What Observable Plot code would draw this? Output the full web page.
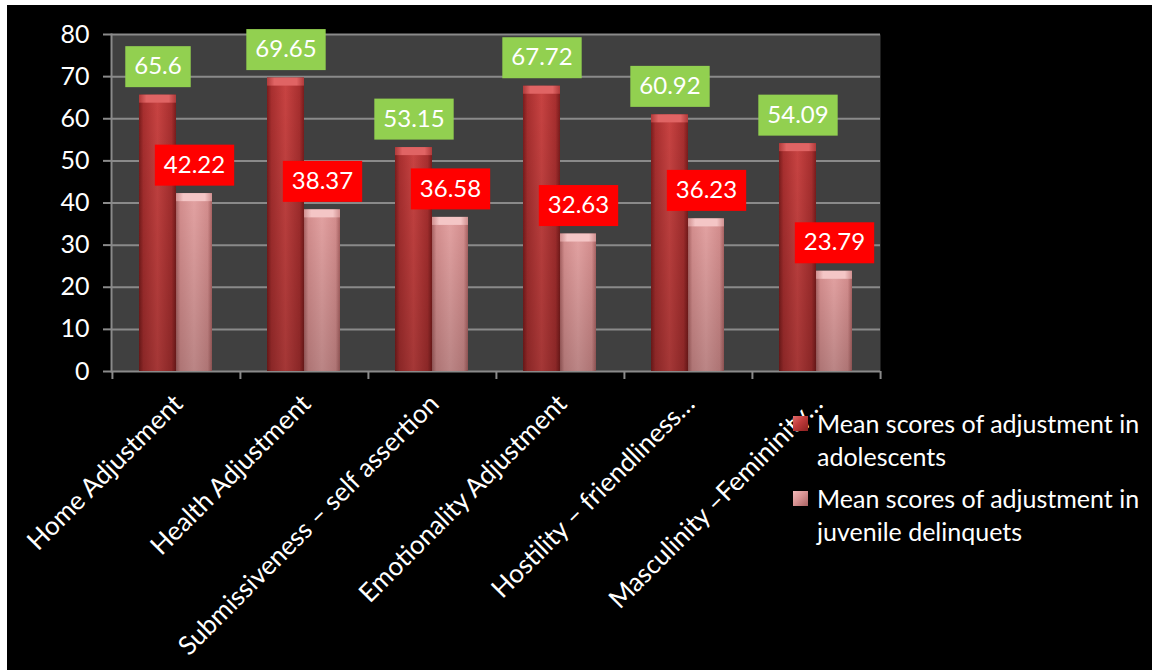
<!DOCTYPE html>
<html>
<head>
<meta charset="utf-8">
<script src="https://cdn.jsdelivr.net/npm/d3@7"></script>
<script src="https://cdn.jsdelivr.net/npm/@observablehq/plot@0.6"></script>
<style>
  html, body { margin: 0; padding: 0; background: #ffffff; width: 1152px; height: 672px; overflow: hidden; }
  #frame { position: absolute; left: 7px; top: 5px; width: 1145px; height: 665px; background: #000; font-family: Lato, "Open Sans", sans-serif; }
  #chart { position: absolute; left: 0; top: 0; }
  .legend { position: absolute; left: 786px; color: #fff; font-size: 25px; line-height: 33px; font-family: Lato, sans-serif; white-space: nowrap; }
  .legend .row { position: relative; padding-left: 24px; }
  .legend .sw { position: absolute; left: 0; top: 9px; width: 15px; height: 15px; }
</style>
</head>
<body>
<div id="frame">
  <div id="chart"></div>
  <div class="legend" id="legend" style="top:402px;"></div>
</div>
<script>
const categories = [
  "Home Adjustment",
  "Health Adjustment",
  "Submissiveness – self assertion",
  "Emotionality Adjustment",
  "Hostility – friendliness…",
  "Masculinity –Femininity…"
];
const adolescents = [65.6, 69.65, 53.15, 67.72, 60.92, 54.09];
const delinquents = [42.22, 38.37, 36.58, 32.63, 36.23, 23.79];
const seriesNames = [
  "Mean scores of adjustment in adolescents",
  "Mean scores of adjustment in juvenile delinquets"
];
const yTicks = [0, 10, 20, 30, 40, 50, 60, 70, 80];

const dataA = categories.map((c, i) => ({cat: c, v: adolescents[i]}));
const dataD = categories.map((c, i) => ({cat: c, v: delinquents[i]}));

const W = 1145, H = 665;
const mL = 104, mR = 272, mT = 29, mB = 299;
const band = (W - mL - mR) / categories.length;   // 128
const grid = "#8a8a8a";

const plot = Plot.plot({
  width: W, height: H,
  marginLeft: mL, marginRight: mR, marginTop: mT, marginBottom: mB,
  style: {background: "transparent", color: "white", fontFamily: "Lato, sans-serif"},
  x: {domain: categories, padding: 0, axis: null, label: null},
  y: {domain: [0, 80], axis: null, label: null},
  marks: [
    Plot.frame({fill: "#404040"}),
    Plot.gridY(yTicks, {stroke: grid, strokeOpacity: 1, strokeWidth: 2}),
    Plot.axisY(yTicks, {label: null, tickSize: 8, tickPadding: 14, fontSize: 25, stroke: grid, strokeWidth: 2, fill: "white", tickFormat: d => d}),
    Plot.frame({anchor: "left", stroke: grid, strokeWidth: 2}),
    Plot.axisX({label: null, tickSize: 8, text: null, stroke: grid, strokeWidth: 2, dx: -band / 2}),
    Plot.axisX([categories[categories.length - 1]], {label: null, tickSize: 8, text: null, stroke: grid, strokeWidth: 2, dx: band / 2}),
    Plot.axisX({label: null, tickSize: 0, tickRotate: -45, tickPadding: 28, fontSize: 26, fill: "white", dx: 2}),
    Plot.barY(dataA, {x: "cat", y: "v", fill: "url(#gDark)", insetLeft: 27, insetRight: 64}),
    Plot.barY(dataD, {x: "cat", y: "v", fill: "url(#gPink)", insetLeft: 64, insetRight: 28}),
    Plot.barY(dataA, {x: "cat", y: "v", fill: "url(#gShade)", insetLeft: 27, insetRight: 64}),
    Plot.barY(dataD, {x: "cat", y: "v", fill: "url(#gShade)", insetLeft: 64, insetRight: 28}),
    Plot.barY(dataA, {x: "cat", y1: "v", y2: "v", fill: "url(#gDarkCap)", insetLeft: 27, insetRight: 64, insetTop: 0, insetBottom: -8}),
    Plot.barY(dataD, {x: "cat", y1: "v", y2: "v", fill: "url(#gPinkCap)", insetLeft: 64, insetRight: 28, insetTop: 0, insetBottom: -8}),
    Plot.text(dataA, {x: "cat", y: "v", text: d => String(d.v), dx: -18.5, dy: -28.5, fill: "white", fontSize: 24, className: "lbl-green"}),
    Plot.text(dataD, {x: "cat", y: "v", text: d => String(d.v), dx: 18, dy: -28.5, fill: "white", fontSize: 24, className: "lbl-red"})
  ]
});

document.getElementById("chart").appendChild(plot);

// gradients for the bevelled bar look
plot.insertAdjacentHTML("afterbegin", `
<defs>
  <linearGradient id="gDark" x1="0" x2="1" y1="0" y2="0">
    <stop offset="0" stop-color="#7a1c1c"/>
    <stop offset="0.12" stop-color="#a82f2f"/>
    <stop offset="0.5" stop-color="#c84342"/>
    <stop offset="0.88" stop-color="#a82f2f"/>
    <stop offset="1" stop-color="#7a1c1c"/>
  </linearGradient>
  <linearGradient id="gPink" x1="0" x2="1" y1="0" y2="0">
    <stop offset="0" stop-color="#a86262"/>
    <stop offset="0.12" stop-color="#d48e8e"/>
    <stop offset="0.5" stop-color="#e3a2a2"/>
    <stop offset="0.88" stop-color="#d48e8e"/>
    <stop offset="1" stop-color="#a86262"/>
  </linearGradient>
  <linearGradient id="gDarkCap" x1="0" x2="1" y1="0" y2="0">
    <stop offset="0" stop-color="#b03a3a"/>
    <stop offset="0.2" stop-color="#e06464"/>
    <stop offset="0.8" stop-color="#e06464"/>
    <stop offset="1" stop-color="#b03a3a"/>
  </linearGradient>
  <linearGradient id="gPinkCap" x1="0" x2="1" y1="0" y2="0">
    <stop offset="0" stop-color="#d09090"/>
    <stop offset="0.2" stop-color="#f4c6c6"/>
    <stop offset="0.8" stop-color="#f4c6c6"/>
    <stop offset="1" stop-color="#d09090"/>
  </linearGradient>
  <linearGradient id="gShade" x1="0" x2="0" y1="0" y2="1">
    <stop offset="0" stop-color="#000000" stop-opacity="0"/>
    <stop offset="1" stop-color="#000000" stop-opacity="0.18"/>
  </linearGradient>
</defs>`);

// label boxes behind the value texts
function boxes(cls, color) {
  plot.querySelectorAll("g." + cls + " text").forEach(t => {
    const bb = t.getBBox();
    const r = document.createElementNS("http://www.w3.org/2000/svg", "rect");
    r.setAttribute("x", bb.x - 9);
    r.setAttribute("y", -20.5);
    r.setAttribute("width", bb.width + 18);
    r.setAttribute("height", 41);
    r.setAttribute("fill", color);
    if (t.getAttribute("transform")) r.setAttribute("transform", t.getAttribute("transform"));
    t.parentNode.insertBefore(r, t);
  });
}
boxes("lbl-green", "#92d050");
boxes("lbl-red", "#ff0000");

// legend
const swatches = [
  "linear-gradient(135deg, #e06a6a 0%, #c03a3a 45%, #8a2020 100%)",
  "linear-gradient(135deg, #f0b8b8 0%, #d99494 45%, #a86262 100%)"
];
const lines = [["Mean scores of adjustment in", "adolescents"], ["Mean scores of adjustment in", "juvenile delinquets"]];
const leg = document.getElementById("legend");
lines.forEach((ls, i) => {
  const row = document.createElement("div");
  row.className = "row";
  row.style.marginBottom = i === 0 ? "9px" : "0";
  row.innerHTML = `<span class="sw" style="background:${swatches[i]}"></span>${ls.join("<br>")}`;
  leg.appendChild(row);
});
</script>
</body>
</html>
